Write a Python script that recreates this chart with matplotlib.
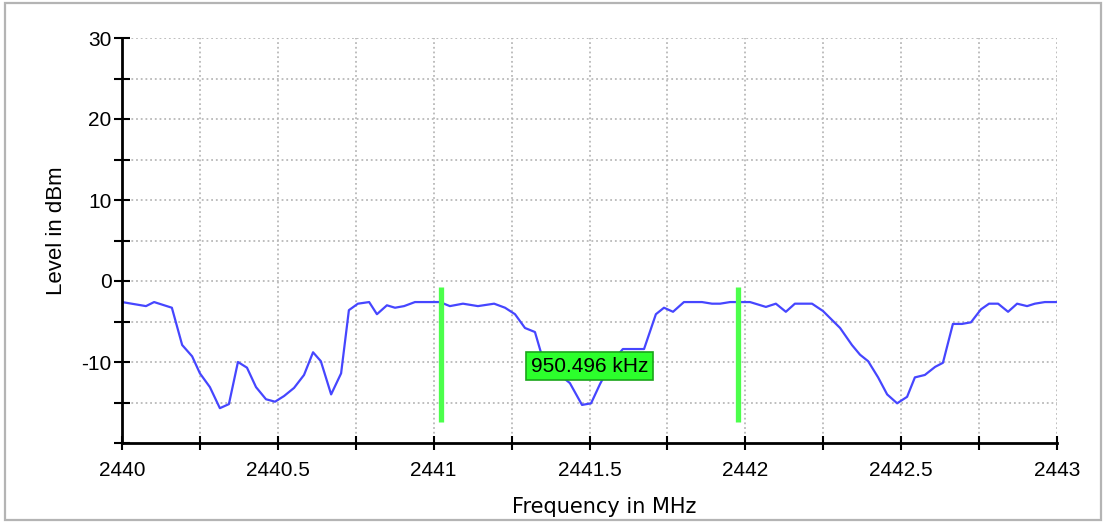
import matplotlib
matplotlib.use("Agg")
import matplotlib.pyplot as plt
from matplotlib.patches import Rectangle
from matplotlib.ticker import MultipleLocator, FixedLocator, FixedFormatter

plt.rcParams["axes.unicode_minus"] = False
plt.rcParams["font.family"] = ["Liberation Sans", "DejaVu Sans"]

# Spectrum trace: frequency (MHz) and level (dBm)
freq_mhz = [
    2440.000, 2440.077, 2440.103, 2440.160, 2440.193, 2440.225, 2440.250, 2440.282,
    2440.314, 2440.343, 2440.372, 2440.401, 2440.430, 2440.462, 2440.491, 2440.520,
    2440.552, 2440.584, 2440.613, 2440.638, 2440.671, 2440.703, 2440.728, 2440.757,
    2440.793, 2440.818, 2440.850, 2440.876, 2440.905, 2440.940, 2441.020, 2441.052,
    2441.094, 2441.142, 2441.194, 2441.229, 2441.261, 2441.293, 2441.325, 2441.344,
    2441.373, 2441.405, 2441.437, 2441.476, 2441.505, 2441.534, 2441.572, 2441.607,
    2441.675, 2441.713, 2441.739, 2441.768, 2441.803, 2441.861, 2441.893, 2441.919,
    2441.951, 2442.015, 2442.066, 2442.098, 2442.130, 2442.159, 2442.214, 2442.249,
    2442.304, 2442.342, 2442.368, 2442.394, 2442.426, 2442.455, 2442.487, 2442.519,
    2442.544, 2442.576, 2442.609, 2442.634, 2442.666, 2442.695, 2442.724, 2442.756,
    2442.782, 2442.811, 2442.843, 2442.872, 2442.904, 2442.929, 2442.961, 2443.000,
]
level_dbm = [
    -2.6, -3.1, -2.6, -3.3, -7.9, -9.3, -11.4, -13.1,
    -15.7, -15.2, -10.0, -10.7, -13.1, -14.6, -14.9, -14.2,
    -13.2, -11.6, -8.8, -9.9, -14.0, -11.4, -3.6, -2.8,
    -2.6, -4.1, -3.0, -3.3, -3.1, -2.6, -2.6, -3.1,
    -2.8, -3.1, -2.8, -3.3, -4.1, -5.8, -6.3, -8.8,
    -10.5, -11.6, -12.6, -15.3, -15.1, -12.7, -10.0, -8.4,
    -8.4, -4.1, -3.3, -3.8, -2.6, -2.6, -2.8, -2.8,
    -2.6, -2.6, -3.2, -2.8, -3.8, -2.8, -2.8, -3.7,
    -5.8, -7.9, -9.1, -9.9, -11.9, -14.0, -15.1, -14.3,
    -11.9, -11.6, -10.6, -10.1, -5.3, -5.3, -5.1, -3.5,
    -2.8, -2.8, -3.8, -2.8, -3.1, -2.8, -2.6, -2.6,
]

# Two frequency markers and the span between them
marker_1_mhz = 2441.0245
marker_span_khz = 950.496
marker_levels = [-0.7, -17.4]

x_major_ticks = [2440, 2440.5, 2441, 2441.5, 2442, 2442.5, 2443]
x_tick_labels = ["2440", "2440.5", "2441", "2441.5", "2442", "2442.5", "2443"]
y_major_ticks = [-10, 0, 10, 20, 30]
y_tick_labels = ["-10", "0", "10", "20", "30"]

W, H = 1105, 523
fig = plt.figure(figsize=(W / 100, H / 100), dpi=100)
fig.patch.set_facecolor("white")

# light grey frame around the panel
fig.patches.append(Rectangle((5 / W, 3 / H), 1096 / W, 517 / H, transform=fig.transFigure,
                             fill=False, edgecolor="#b4b4b4", linewidth=1.6))

ax = fig.add_axes([122 / W, (H - 443) / H, 935 / W, 405 / H])
ax.set_xlim(2440, 2443)
ax.set_ylim(-20, 30)

for side in ("top", "right"):
    ax.spines[side].set_visible(False)
for side in ("left", "bottom"):
    ax.spines[side].set_linewidth(2.0)
    ax.spines[side].set_zorder(5)

ax.xaxis.set_major_locator(FixedLocator(x_major_ticks))
ax.xaxis.set_major_formatter(FixedFormatter(x_tick_labels))
ax.xaxis.set_minor_locator(MultipleLocator(0.25))
ax.yaxis.set_major_locator(FixedLocator(y_major_ticks))
ax.yaxis.set_major_formatter(FixedFormatter(y_tick_labels))
ax.yaxis.set_minor_locator(MultipleLocator(5))

ax.tick_params(axis="both", which="both", direction="inout", width=1.5, color="black")
ax.tick_params(axis="both", which="major", labelsize=15)
ax.tick_params(axis="x", which="both", length=9.5, pad=8)
ax.tick_params(axis="y", which="both", length=11, pad=2)

# dotted grid on every major and minor position
grid_style = dict(color="#b9b9b9", linewidth=1.3, linestyle=(0, (1, 1.6)), zorder=0)
for xv in [2440.25 + 0.25 * i for i in range(12)]:
    ax.axvline(xv, **grid_style)
for yv in range(-15, 31, 5):
    ax.axhline(yv, **grid_style)

ax.plot(freq_mhz, level_dbm, color="#4646ff", linewidth=1.6, zorder=3)

marker_2_mhz = marker_1_mhz + marker_span_khz / 1000.0
for fm in (marker_1_mhz, marker_2_mhz):
    ax.plot([fm, fm], marker_levels, color="#4cff4c", linewidth=3.8,
            solid_capstyle="butt", zorder=4)

span_label = f"{(marker_2_mhz - marker_1_mhz) * 1000:.3f} kHz"
ax.text((marker_1_mhz + marker_2_mhz) / 2, -10.5, span_label,
        ha="center", va="center", fontsize=15, color="black", zorder=6,
        bbox=dict(boxstyle="square,pad=0.22", facecolor="#2cff2c",
                  edgecolor="#1aa51a", linewidth=1.2))

ax.set_ylabel("Level in dBm", fontsize=16)
ax.yaxis.label.set_va("center")
ax.yaxis.set_label_coords((57 - 122) / 935, (443 - 231) / 405)

ax.set_xlabel("Frequency in MHz", fontsize=15, family="DejaVu Sans")
ax.xaxis.label.set_va("center")
ax.xaxis.set_label_coords((604 - 122) / 935, -(507 - 443) / 405)

fig.savefig("out.png", dpi=100, facecolor="white")
